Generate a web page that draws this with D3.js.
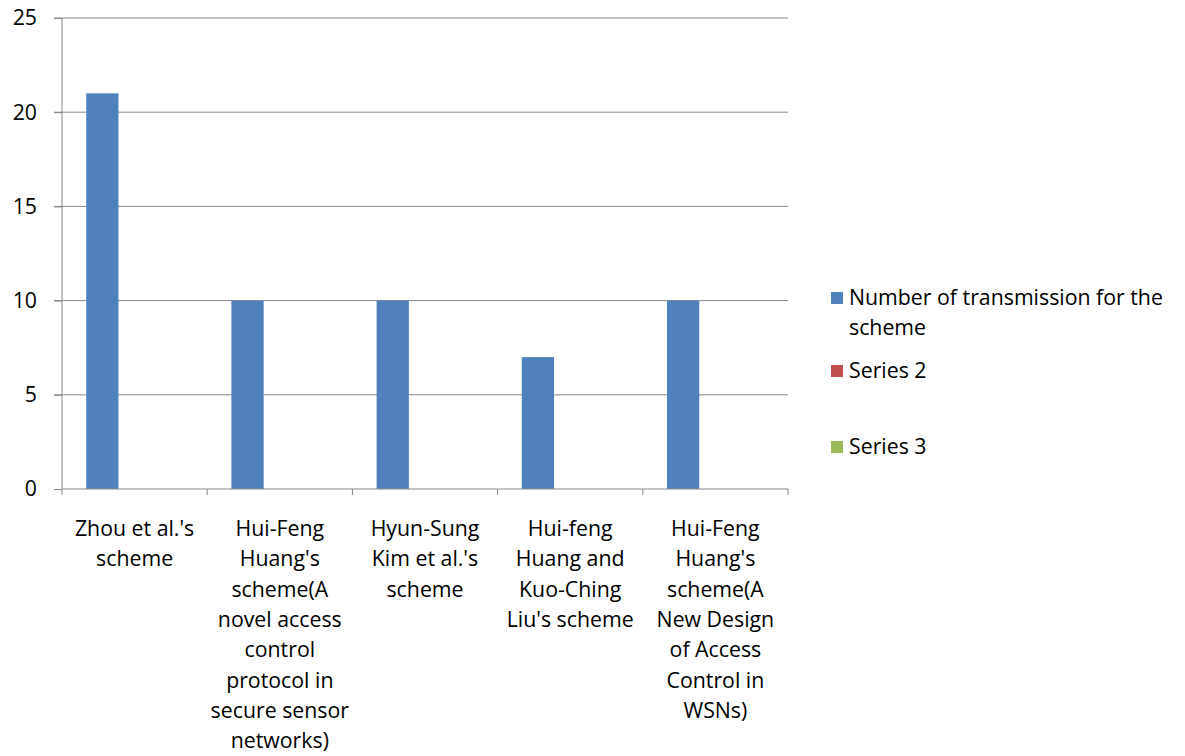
<!DOCTYPE html>
<html>
<head>
<meta charset="utf-8">
<script src="https://cdn.jsdelivr.net/npm/d3@7"></script>
<style>
    body { margin: 0; background: #fff; }
    text { font-family: "Open Sans", sans-serif; fill: #000; }
</style>
</head>
<body>
<div id="chart"></div>
<script>
// chart data
const categories = [
    ["Zhou et al.'s", "scheme"],
    ["Hui-Feng", "Huang's", "scheme(A", "novel access", "control", "protocol in", "secure sensor", "networks)"],
    ["Hyun-Sung", "Kim et al.'s", "scheme"],
    ["Hui-feng", "Huang and", "Kuo-Ching", "Liu's scheme"],
    ["Hui-Feng", "Huang's", "scheme(A", "New Design", "of Access", "Control in", "WSNs)"]
];
const seriesNames = ["Number of transmission for the scheme", "Series 2", "Series 3"];
const seriesColors = ["#4f81bd", "#c0504d", "#9bbb59"];
const series1 = [21, 10, 10, 7, 10];
const series2 = [null, null, null, null, null];
const series3 = [null, null, null, null, null];
const yTicks = [0, 5, 10, 15, 20, 25];

const allSeries = [series1, series2, series3];

var width = 1185, height = 756;
var margin = { top: 18, left: 62, right: 397, bottom: 267 };
var plotW = width - margin.left - margin.right;
var plotH = height - margin.top - margin.bottom;
var fontSize = "21.3px";

var svg = d3.select("#chart").append("svg")
    .attr("width", width)
    .attr("height", height);

var g = svg.append("g")
    .attr("transform", "translate(" + margin.left + "," + margin.top + ")");

var x0 = d3.scaleBand()
    .domain(d3.range(categories.length))
    .range([0, plotW]);

// 3 bars + gap width 150% -> 4.5 bar widths per category
var gap = x0.bandwidth() * 0.75 / 4.5;
var x1 = d3.scaleBand()
    .domain(d3.range(allSeries.length))
    .range([gap, x0.bandwidth() - gap]);

var y = d3.scaleLinear().domain([0, 25]).range([plotH, 0]);

// gridlines
g.selectAll(".grid")
    .data(yTicks.filter(d => d > 0))
    .enter().append("line")
    .attr("x1", -8)
    .attr("x2", plotW)
    .attr("y1", d => y(d))
    .attr("y2", d => y(d))
    .attr("stroke", "#888")
    .attr("stroke-width", 1);

// bars
allSeries.forEach(function (vals, s) {
    g.selectAll(".bar" + s)
        .data(vals.map((v, i) => ({ v: v, i: i })).filter(d => d.v != null))
        .enter().append("rect")
        .attr("x", d => x0(d.i) + x1(s))
        .attr("y", d => y(d.v))
        .attr("width", x1.bandwidth())
        .attr("height", d => plotH - y(d.v))
        .attr("fill", seriesColors[s]);
});

// y axis
var yAxis = g.append("g")
    .call(d3.axisLeft(y).tickValues(yTicks).tickSize(8).tickPadding(17).tickFormat(d3.format("d")));
yAxis.selectAll("line").attr("stroke", "#888");
yAxis.select(".domain").attr("stroke", "#888").attr("d", "M0,0V" + plotH);
yAxis.selectAll("text").style("font-size", fontSize).attr("fill", "#000");

// x axis with ticks at category boundaries
var xAxis = g.append("g").attr("transform", "translate(0," + plotH + ")");
xAxis.append("line")
    .attr("x1", 0).attr("x2", plotW)
    .attr("stroke", "#888");
xAxis.selectAll(".xtick")
    .data(d3.range(categories.length + 1))
    .enter().append("line")
    .attr("x1", d => d * x0.step())
    .attr("x2", d => d * x0.step())
    .attr("y1", 0).attr("y2", 6)
    .attr("stroke", "#888");

// category labels
categories.forEach(function (lines, i) {
    var t = xAxis.append("text")
        .attr("text-anchor", "middle")
        .attr("x", x0(i) + x0.bandwidth() / 2)
        .attr("y", 47)
        .style("font-size", fontSize);
    lines.forEach(function (ln, k) {
        t.append("tspan")
            .attr("x", x0(i) + x0.bandwidth() / 2)
            .attr("dy", k === 0 ? 0 : 30.3)
            .text(ln);
    });
});

// legend
var legendRows = [["Number of transmission for the", "scheme"], [seriesNames[1]], [seriesNames[2]]];
var legendY = [298, 371, 447];
var legend = svg.append("g");
legendRows.forEach(function (lines, i) {
    legend.append("rect")
        .attr("x", 831)
        .attr("y", legendY[i] - 6)
        .attr("width", 12)
        .attr("height", 12)
        .attr("fill", seriesColors[i]);
    var t = legend.append("text")
        .attr("x", 849)
        .attr("y", legendY[i] + 7)
        .style("font-size", fontSize);
    lines.forEach(function (ln, k) {
        t.append("tspan")
            .attr("x", 849)
            .attr("dy", k === 0 ? 0 : 30)
            .text(ln);
    });
});
</script>
</body>
</html>
